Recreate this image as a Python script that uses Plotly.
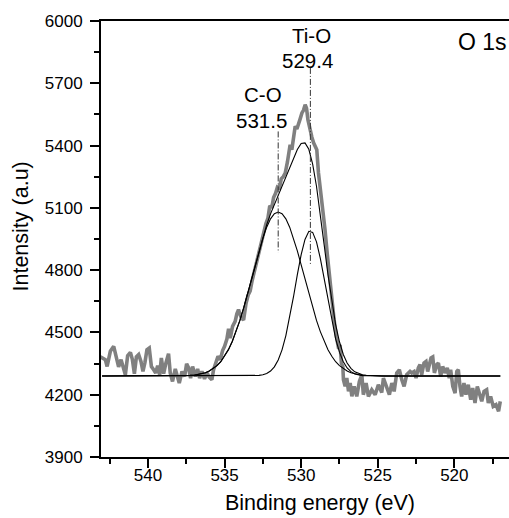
import plotly.graph_objects as go

# ---------------- data ----------------
energy = [543.11, 542.79, 542.67, 542.46, 542.24, 542.07, 541.92, 541.76, 541.59, 541.48,
          541.33, 541.15, 541.02, 540.89, 540.76, 540.61, 540.46, 540.33, 540.20, 540.07,
          539.92, 539.78, 539.63, 539.50, 539.37, 539.24, 539.13, 538.98, 538.83, 538.66,
          538.55, 538.40, 538.22, 538.09, 537.96, 537.78, 537.61, 537.48, 537.35, 537.22,
          537.09, 536.91, 536.76, 536.63, 536.48, 536.31, 536.15, 536.00, 535.83, 535.72,
          535.56, 535.43, 535.28, 535.13, 535.00, 534.85, 534.74, 534.63, 534.48, 534.31,
          534.20, 534.09, 533.98, 533.91, 533.76, 533.60, 533.46, 533.33, 533.20, 533.07,
          532.94, 532.80, 532.67, 532.55, 532.42, 532.30, 532.17, 532.05, 531.92, 531.80,
          531.67, 531.55, 531.42, 531.30, 531.17, 531.04, 530.90, 530.80, 530.72, 530.61,
          530.50, 530.39, 530.28, 530.18, 530.06, 529.95, 529.85, 529.74, 529.65, 529.56,
          529.48, 529.41, 529.30, 529.19, 529.08, 528.98, 528.87, 528.76, 528.60, 528.45,
          528.30, 528.15, 528.00, 527.85, 527.70, 527.55, 527.46, 527.37, 527.28, 527.24,
          527.13, 527.02, 526.91, 526.80, 526.69, 526.54, 526.37, 526.20, 526.04, 525.94,
          525.76, 525.61, 525.39, 525.17, 524.96, 524.74, 524.63, 524.41, 524.24, 524.08,
          523.93, 523.76, 523.59, 523.43, 523.28, 523.11, 522.89, 522.78, 522.63, 522.50,
          522.35, 522.24, 522.13, 521.98, 521.85, 521.74, 521.63, 521.52, 521.41, 521.30,
          521.15, 521.04, 520.89, 520.76, 520.61, 520.46, 520.33, 520.24, 520.10, 519.95,
          519.84, 519.74, 519.63, 519.52, 519.37, 519.24, 519.09, 518.93, 518.80, 518.65,
          518.50, 518.37, 518.21, 518.06, 517.89, 517.78, 517.63, 517.46, 517.28, 517.11,
          517.00]
intensity = [4382, 4369, 4336, 4409, 4433, 4385, 4334, 4369, 4320, 4296,
             4388, 4404, 4369, 4301, 4382, 4393, 4360, 4312, 4356, 4417,
             4425, 4336, 4320, 4305, 4340, 4296, 4377, 4301, 4353, 4398,
             4305, 4264, 4324, 4280, 4256, 4312, 4288, 4349, 4329, 4280,
             4336, 4288, 4324, 4280, 4312, 4276, 4305, 4285, 4272, 4320,
             4360, 4385, 4369, 4413, 4433, 4468, 4517, 4473, 4529, 4553,
             4590, 4610, 4585, 4570, 4560, 4640, 4680, 4700, 4750, 4790,
             4830, 4880, 4905, 4960, 4990, 5025, 5050, 5110, 5100, 5150,
             5170, 5200, 5195, 5240, 5250, 5268, 5320, 5360, 5404, 5380,
             5440, 5493, 5480, 5509, 5530, 5557, 5570, 5597, 5580, 5525,
             5500, 5461, 5440, 5413, 5400, 5380, 5268, 5204, 5120, 5000,
             4880, 4760, 4650, 4560, 4480, 4420, 4440, 4350, 4336, 4272,
             4240, 4280, 4216, 4256, 4192, 4240, 4192, 4264, 4296, 4200,
             4256, 4192, 4224, 4200, 4248, 4211, 4280, 4240, 4200, 4256,
             4216, 4305, 4320, 4272, 4240, 4296, 4312, 4305, 4312, 4280,
             4329, 4345, 4296, 4353, 4360, 4312, 4345, 4377, 4382, 4305,
             4345, 4353, 4288, 4336, 4305, 4329, 4280, 4320, 4240, 4208,
             4312, 4320, 4240, 4192, 4256, 4200, 4248, 4176, 4232, 4160,
             4240, 4208, 4168, 4216, 4224, 4160, 4192, 4144, 4152, 4120,
             4168]

baseline = 4290
fit_energy = [543.0] + [538.5 - 0.25 * i for i in range(57)] + [517.0]
co_height = [0,
             0, 0, 1, 1, 2, 3, 4, 7, 10, 16, 24, 35, 50, 69, 95, 127, 166, 214, 268, 329,
             395, 465, 535, 603, 664, 717, 757, 782, 790, 782, 757, 717, 664, 603, 535, 465,
             395, 329, 268, 214, 166, 127, 95, 69, 50, 35, 24, 16, 10, 7, 4, 3, 2, 1, 1, 0, 0,
             0]
tio_height = [0] * 22 + [0, 1, 3, 6, 12, 24, 44, 77, 126, 195, 281, 382, 488, 585, 658, 697,
              692, 646, 567, 467, 361, 263, 179, 115, 69, 39, 21, 10, 5, 2, 1, 0, 0, 0, 0, 0, 0]
env_height = [0,
              0, 0, 1, 1, 2, 3, 4, 7, 10, 16, 24, 35, 50, 69, 95, 127, 166, 214, 268, 329,
              395, 465, 536, 606, 670, 729, 781, 826, 867, 908, 952, 998, 1046, 1091, 1120,
              1123, 1092, 1021, 914, 781, 633, 488, 358, 248, 165, 104, 63, 37, 20, 12, 6, 4,
              2, 1, 1, 0, 0,
              0]

peak_pos = [531.5, 529.4]
peak_line_top = [5468, 5774]
peak_line_bottom = [4885, 4826]
peak_names = ["C-O", "Ti-O"]
peak_labels = ["531.5", "529.4"]

x_ticks = [540, 535, 530, 525, 520]
y_ticks = [3900, 4200, 4500, 4800, 5100, 5400, 5700, 6000]

FONT = "Liberation Sans, Arial, sans-serif"

fig = go.Figure()
fig.add_trace(go.Scatter(x=energy, y=intensity, mode="lines",
                         line=dict(color="#808080", width=3.6), showlegend=False))
for h in (co_height, tio_height, env_height):
    fig.add_trace(go.Scatter(x=fit_energy, y=[baseline + v for v in h], mode="lines",
                             line=dict(color="black", width=1.1), showlegend=False))
for xp, yt, yb in zip(peak_pos, peak_line_top, peak_line_bottom):
    fig.add_trace(go.Scatter(x=[xp, xp], y=[yt, yb], mode="lines",
                             line=dict(color="#333333", width=1, dash="6px,2px,1px,2px"),
                             showlegend=False))

ann = []
ann.append(dict(x=532.5, y=5645, text=peak_names[0]))
ann.append(dict(x=532.56, y=5521, text=peak_labels[0]))
ann.append(dict(x=529.3, y=5931, text=peak_names[1]))
ann.append(dict(x=529.6, y=5809, text=peak_labels[1]))
for a in ann:
    a.update(xref="x", yref="y", showarrow=False, xanchor="center", yanchor="middle",
             font=dict(family=FONT, size=20.5, color="black"))
ann.append(dict(x=(456 - 101) / 408, y=(457 - 42) / 436, xref="paper", yref="paper",
                text="O 1s", showarrow=False, xanchor="left", yanchor="middle",
                font=dict(family=FONT, size=23, color="black")))
ann.append(dict(x=(320 - 101) / 408, y=(457 - 503) / 436, xref="paper", yref="paper",
                text="Binding energy (eV)", showarrow=False, xanchor="center", yanchor="middle",
                font=dict(family=FONT, size=21.5, color="black")))
ann.append(dict(x=(20.5 - 101) / 408, y=(457 - 227) / 436, xref="paper", yref="paper",
                text="Intensity (a.u)", showarrow=False, xanchor="center", yanchor="middle",
                textangle=-90, font=dict(family=FONT, size=21.5, color="black")))

fig.update_layout(
    width=509, height=518,
    margin=dict(l=101, r=0, t=21, b=61),
    paper_bgcolor="white", plot_bgcolor="white",
    font=dict(family=FONT, size=17, color="black"),
    annotations=ann,
    xaxis=dict(range=[543.07, 516.43], tickvals=x_ticks, ticks="outside", ticklen=9,
               tickwidth=1.5, tickcolor="black", showline=True, linecolor="black",
               linewidth=1.8, mirror=True, showgrid=False, zeroline=False,
               tickfont=dict(family=FONT, size=17), ticklabelstandoff=-7,
               minor=dict(dtick=2.5, tick0=540, ticks="outside", ticklen=5, tickwidth=1.5,
                          tickcolor="black", showgrid=False)),
    yaxis=dict(range=[3900, 6000], tickvals=y_ticks, ticks="outside", ticklen=9,
               tickwidth=1.5, tickcolor="black", showline=True, linecolor="black",
               linewidth=1.8, showgrid=False, zeroline=False,
               tickfont=dict(family=FONT, size=17), ticklabelstandoff=4,
               minor=dict(dtick=150, tick0=3900, ticks="outside", ticklen=5, tickwidth=1.5,
                          tickcolor="black", showgrid=False)),
)

fig.write_html("out.html", config={"displayModeBar": False},
               post_script="document.body.style.margin='0px';document.body.style.overflow='hidden';")
